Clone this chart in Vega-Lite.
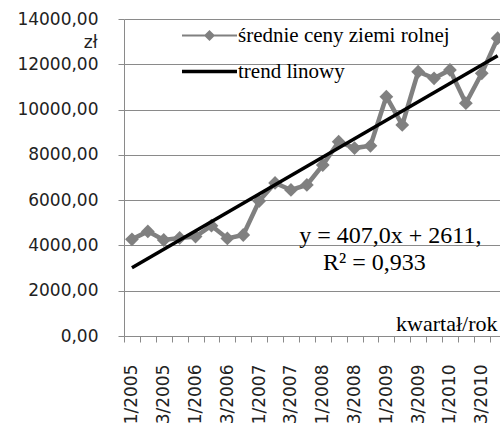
{
  "$schema": "https://vega.github.io/schema/vega-lite/v6.json",
  "autosize": {"type": "none"},
  "width": 376,
  "height": 317,
  "padding": {"left": 124, "top": 19, "right": 0, "bottom": 94},
  "background": "white",
  "config": {
    "view": {"stroke": null},
    "legend": {"labelFont": "Liberation Serif", "labelFontSize": 21, "labelColor": "#000000"}
  },
  "data": {"values": [
    {"q": "1/2005", "v": 4270, "s": "średnie ceny ziemi rolnej"},
    {"q": "2/2005", "v": 4620, "s": "średnie ceny ziemi rolnej"},
    {"q": "3/2005", "v": 4240, "s": "średnie ceny ziemi rolnej"},
    {"q": "4/2005", "v": 4330, "s": "średnie ceny ziemi rolnej"},
    {"q": "1/2006", "v": 4390, "s": "średnie ceny ziemi rolnej"},
    {"q": "2/2006", "v": 4870, "s": "średnie ceny ziemi rolnej"},
    {"q": "3/2006", "v": 4310, "s": "średnie ceny ziemi rolnej"},
    {"q": "4/2006", "v": 4460, "s": "średnie ceny ziemi rolnej"},
    {"q": "1/2007", "v": 5960, "s": "średnie ceny ziemi rolnej"},
    {"q": "2/2007", "v": 6760, "s": "średnie ceny ziemi rolnej"},
    {"q": "3/2007", "v": 6450, "s": "średnie ceny ziemi rolnej"},
    {"q": "4/2007", "v": 6670, "s": "średnie ceny ziemi rolnej"},
    {"q": "1/2008", "v": 7550, "s": "średnie ceny ziemi rolnej"},
    {"q": "2/2008", "v": 8580, "s": "średnie ceny ziemi rolnej"},
    {"q": "3/2008", "v": 8300, "s": "średnie ceny ziemi rolnej"},
    {"q": "4/2008", "v": 8400, "s": "średnie ceny ziemi rolnej"},
    {"q": "1/2009", "v": 10570, "s": "średnie ceny ziemi rolnej"},
    {"q": "2/2009", "v": 9320, "s": "średnie ceny ziemi rolnej"},
    {"q": "3/2009", "v": 11670, "s": "średnie ceny ziemi rolnej"},
    {"q": "4/2009", "v": 11380, "s": "średnie ceny ziemi rolnej"},
    {"q": "1/2010", "v": 11750, "s": "średnie ceny ziemi rolnej"},
    {"q": "2/2010", "v": 10280, "s": "średnie ceny ziemi rolnej"},
    {"q": "3/2010", "v": 11600, "s": "średnie ceny ziemi rolnej"},
    {"q": "4/2010", "v": 13150, "s": "średnie ceny ziemi rolnej"},
    {"q": "1/2005", "v": 3018, "s": "trend linowy"},
    {"q": "4/2010", "v": 12379, "s": "trend linowy"}
  ]},
  "encoding": {
    "x": {
      "field": "q", "type": "ordinal", "sort": null,
      "scale": {"paddingInner": 0, "paddingOuter": 0, "range": [0, 381.6]},
      "axis": {
        "title": "kwartał/rok",
        "titleX": 373, "titleY": -6, "titleAlign": "right", "titleBaseline": "alphabetic",
        "titleFont": "Liberation Serif", "titleFontSize": 22, "titleFontWeight": "normal", "titleColor": "#000000",
        "labelAngle": -90, "labelPadding": 22, "labelOverlap": false,
        "labelExpr": "(substring(datum.label,0,1) == '1' || substring(datum.label,0,1) == '3') ? datum.label : ''",
        "labelFont": "DejaVu Sans", "labelFontSize": 17, "labelColor": "#222222",
        "tickBand": "extent", "tickSize": 6, "tickColor": "#8a8a8a",
        "domainColor": "#8a8a8a", "grid": false
      }
    },
    "y": {
      "field": "v", "type": "quantitative",
      "scale": {"domain": [0, 14000], "nice": false},
      "axis": {
        "values": [0, 2000, 4000, 6000, 8000, 10000, 12000, 14000],
        "labelExpr": "replace(format(datum.value, '.2f'), '.', ',')",
        "labelFont": "DejaVu Sans", "labelFontSize": 17, "labelColor": "#222222",
        "labelPadding": 20, "tickSize": 6, "tickColor": "#8a8a8a",
        "domainColor": "#8a8a8a", "grid": true, "gridColor": "#8a8a8a",
        "title": "zł", "titleAngle": 0, "titleX": -27, "titleY": 23,
        "titleAlign": "right", "titleBaseline": "middle",
        "titleFont": "DejaVu Sans", "titleFontSize": 17, "titleFontWeight": "normal", "titleColor": "#222222"
      }
    }
  },
  "layer": [
    {
      "transform": [{"filter": "datum.s == 'średnie ceny ziemi rolnej'"}],
      "mark": {"type": "line", "strokeWidth": 4.5},
      "encoding": {
        "color": {
          "field": "s", "type": "nominal",
          "scale": {"domain": ["średnie ceny ziemi rolnej", "trend linowy"], "range": ["#808080", "#000000"]},
          "legend": {
            "title": null, "orient": "none", "legendX": 75, "legendY": 6,
            "symbolSize": 3025, "symbolStrokeWidth": 2.5,
            "labelFont": "Liberation Serif", "labelFontSize": 21, "labelColor": "#000000",
            "labelOffset": 18, "labelLimit": 400, "rowPadding": 14,
            "encode": {
              "symbols": {
                "update": {
                  "shape": {"signal": "datum.value == 'trend linowy' ? 'stroke' : 'M-1,0H1M0,-0.15L0.15,0L0,0.15L-0.15,0Z'"},
                  "strokeWidth": {"signal": "datum.value == 'trend linowy' ? 3.5 : 2"},
                  "fill": {"signal": "datum.value == 'trend linowy' ? 'transparent' : '#808080'"},
                  "stroke": {"signal": "datum.value == 'trend linowy' ? '#000000' : '#808080'"},
                  "opacity": {"value": 1}
                }
              }
            }
          }
        }
      }
    },
    {
      "transform": [{"filter": "datum.s == 'średnie ceny ziemi rolnej'"}],
      "mark": {"type": "point", "shape": "diamond", "filled": true, "size": 190, "color": "#808080", "opacity": 1}
    },
    {
      "transform": [{"filter": "datum.s == 'trend linowy'"}],
      "mark": {"type": "line", "strokeWidth": 3.5},
      "encoding": {"color": {"field": "s", "type": "nominal"}}
    },
    {
      "data": {"values": [
        {"q": "1/2009", "v": 4420, "t": "y = 407,0x + 2611,"},
        {"q": "4/2008", "v": 3220, "t": "R² = 0,933"}
      ]},
      "mark": {"type": "text", "font": "Liberation Serif", "fontSize": 24, "color": "#000000", "align": "center", "baseline": "middle", "dx": 4},
      "encoding": {"text": {"field": "t"}}
    }
  ]
}
